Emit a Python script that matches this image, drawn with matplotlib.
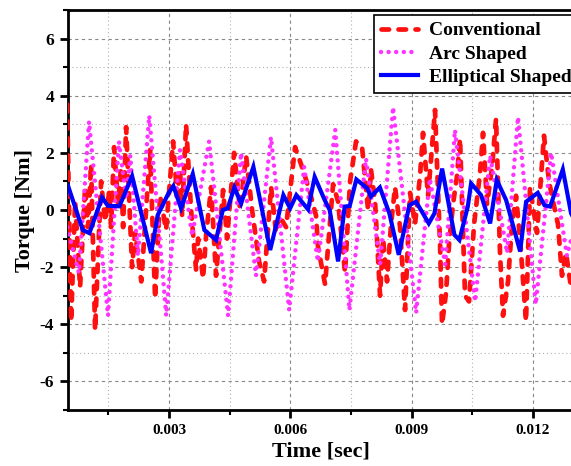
import matplotlib
matplotlib.use("Agg")
import matplotlib.pyplot as plt
from matplotlib.ticker import MultipleLocator, FixedLocator
import numpy as np

plt.rcParams['font.family'] = ['Liberation Serif', 'DejaVu Serif']
plt.rcParams['font.weight'] = 'bold'
plt.rcParams['axes.unicode_minus'] = False

# ---- data (time in ms, torque in Nm) ----
conv_t = [0.478, 0.577, 0.676, 0.799, 0.923, 0.997, 1.071, 1.170, 1.319, 1.417, 1.516, 1.566,
          1.640, 1.739, 1.813, 1.863, 1.937, 2.085, 2.159, 2.313, 2.530, 2.654, 2.777, 2.926,
          3.099, 3.198, 3.272, 3.322, 3.420, 3.544, 3.668, 3.718, 3.841, 3.915, 4.039, 4.162,
          4.336, 4.435, 4.608, 4.756, 4.905, 5.053, 5.226, 5.350, 5.523, 5.646, 5.721, 5.894,
          6.116, 6.314, 6.487, 6.635, 6.685, 6.858, 7.056, 7.179, 7.352, 7.476, 7.624, 7.773,
          7.921, 7.995, 8.094, 8.218, 8.292, 8.391, 8.490, 8.589, 8.713, 8.836, 8.960, 9.083,
          9.207, 9.281, 9.405, 9.578, 9.627, 9.702, 9.751, 9.850, 9.924, 10.023, 10.122, 10.196,
          10.320, 10.419, 10.543, 10.691, 10.765, 10.864, 10.988, 11.087, 11.185, 11.260, 11.383,
          11.482, 11.581, 11.680, 11.828, 11.927, 12.100, 12.273, 12.397, 12.496, 12.619, 12.718,
          12.817, 12.941, 13.040]
conv_v = [3.7, -3.9, 0.3, -2.7, 0.8, -0.6, 1.6, -4.2, 1.0, -0.4, 0.6, -0.6,
          2.2, 0.2, 1.5, -0.6, 2.9, -2.0, -0.8, -2.5, 2.1, -3.1, 0.5, -0.7,
          2.4, 0.5, 1.4, -0.2, 3.0, 0.0, -2.1, -1.0, -2.4, -0.9, 0.8, -2.3,
          0.7, -1.0, 2.0, 0.0, 1.9, 0.0, -1.8, -2.5, 0.8, -0.8, -0.2, -0.6,
          2.2, 1.4, 0.6, -0.2, -1.3, -2.6, 0.9, 0.3, -2.2, 1.0, 2.4, 2.2,
          0.0, 1.4, 0.3, -3.0, -1.0, -2.5, -0.5, 0.8, -0.6, -3.5, 0.6, -0.5,
          1.2, 2.7, 0.5, 3.5, 1.6, -1.2, -4.0, -2.9, -1.2, 0.2, 1.2, 2.5,
          -3.0, -3.2, -0.5, 1.3, 2.7, 0.2, 1.5, 3.2, -1.5, -3.7, -2.5,
          -0.5, 0.5, -1.0, -3.9, 0.8, -0.8, 2.6, 1.0, 0.3, -0.5, -2.3,
          -1.5, -2.7, -1.5]

arc_t = [0.48, 0.77, 1.02, 1.49, 1.76, 1.94, 2.04, 2.23, 2.51, 2.93, 3.27, 3.57, 3.99, 4.46,
         4.78, 5.15, 5.52, 5.97, 6.34, 6.68, 7.11, 7.46, 7.87, 8.22, 8.54, 9.11, 9.45, 9.83,
         10.07, 10.57, 10.94, 11.36, 11.63, 12.07, 12.45, 12.84, 13.04]
arc_v = [-0.6, -2.2, 3.1, -3.7, 2.4, 0.4, 1.9, -1.6, 3.3, -3.7, 2.1, -0.9, 2.4, -3.7,
         2.0, -2.3, 2.55, -3.5, 1.5, -1.8, 2.8, -3.5, 1.8, -1.9, 3.6, -3.6, 1.1, -1.9,
         2.8, -3.2, 1.9, -1.5, 3.25, -3.3, 2.0, -1.6, -0.5]

ell_t = [0.50, 0.865, 1.029, 1.343, 1.484, 1.771, 2.085, 2.555, 2.721, 2.983, 3.106, 3.297,
         3.586, 3.873, 4.162, 4.328, 4.452, 4.615, 4.781, 5.085, 5.50, 5.827, 5.993, 6.148,
         6.438, 6.601, 6.848, 6.972, 7.180, 7.343, 7.467, 7.632, 7.90, 7.99, 8.214, 8.449,
         8.681, 8.944, 9.109, 9.423, 9.562, 9.752, 10.057, 10.180, 10.388, 10.470, 10.717,
         10.940, 11.105, 11.335, 11.682, 11.830, 12.119, 12.283, 12.424, 12.738, 12.943, 13.05]
ell_v = [0.85, -0.70, -0.81, 0.44, 0.15, 0.13, 1.19, -1.51, -0.17, 0.58, 0.84, 0.06,
         1.26, -0.70, -1.05, 0.00, 0.06, 0.79, 0.23, 1.51, -1.40, 0.52, 0.06, 0.52,
         0.02, 1.16, 0.35, 0.00, -1.80, 0.12, 0.14, 1.07, 0.76, 0.47, 0.79, -0.12,
         -1.57, 0.17, 0.29, -0.47, -0.12, 1.45, -0.87, -1.05, 0.12, 0.93, 0.52,
         -0.47, 1.05, 0.35, -1.45, 0.29, 0.60, 0.17, 0.12, 1.42, -0.12, -0.40]

x_ticks = [0.003, 0.006, 0.009, 0.012]
x_tick_labels = ["0.003", "0.006", "0.009", "0.012"]
y_ticks = [-6, -4, -2, 0, 2, 4, 6]
y_tick_labels = ["-6", "-4", "-2", "0", "2", "4", "6"]
labels = ["Conventional", "Arc Shaped", "Elliptical Shaped"]

W, H = 571, 466
fig = plt.figure(figsize=(W / 100, H / 100), dpi=100)
ax = fig.add_axes([68 / W, 1 - 410 / H, 505.4 / W, 400 / H])

ms = 1e-3
ax.plot(np.array(conv_t) * ms, conv_v, color='#ff1010', lw=3.4,
        linestyle=(0, (1.6, 2.0)), dash_capstyle='round', label=labels[0], zorder=3)
ax.plot(np.array(arc_t) * ms, arc_v, color='#ff33ff', lw=3.2,
        linestyle=(0, (0.01, 1.7)), dash_capstyle='round', label=labels[1], zorder=3)
ax.plot(np.array(ell_t) * ms, ell_v, color='#0000ff', lw=3.0,
        solid_joinstyle='miter', label=labels[2], zorder=4)

ax.set_xlim(0.0005, 0.013)
ax.set_ylim(-7, 7)

ax.xaxis.set_major_locator(FixedLocator(x_ticks))
ax.set_xticklabels(x_tick_labels)
ax.xaxis.set_minor_locator(MultipleLocator(0.0015))
ax.yaxis.set_major_locator(FixedLocator(y_ticks))
ax.set_yticklabels(y_tick_labels)
ax.yaxis.set_minor_locator(MultipleLocator(1))

ax.grid(which='major', linestyle=(0, (3, 3)), color='#888888', lw=0.8)
ax.grid(which='minor', linestyle=(0, (1, 2.5)), color='#b0b0b0', lw=0.8)
ax.set_axisbelow(True)

for s in ax.spines.values():
    s.set_linewidth(2.0)
ax.tick_params(which='major', direction='out', length=6, width=2.0, labelsize=11, pad=4)
ax.tick_params(which='minor', direction='out', length=3.5, width=1.5)
ax.tick_params(axis='y', labelsize=12.5)
for lab in ax.get_xticklabels() + ax.get_yticklabels():
    lab.set_fontweight('bold')

ax.set_xlabel("Time [sec]", fontsize=16, fontweight='bold')
ax.set_ylabel("Torque [Nm]", fontsize=16, fontweight='bold')
ax.xaxis.set_label_coords(0.5, -0.078)
ax.yaxis.set_label_coords(-0.065, 0.5)

leg = ax.legend(loc='upper left', bbox_to_anchor=(374 / W, 1 - 15 / H),
                bbox_transform=fig.transFigure, fancybox=False, framealpha=1,
                edgecolor='black', prop={'family': 'Liberation Serif', 'weight': 'bold', 'size': 14},
                handlelength=1.9, labelspacing=0.3, borderpad=0.35, handletextpad=0.6,
                borderaxespad=0)
leg.get_frame().set_linewidth(1.2)

fig.savefig("out.png", dpi=100)
